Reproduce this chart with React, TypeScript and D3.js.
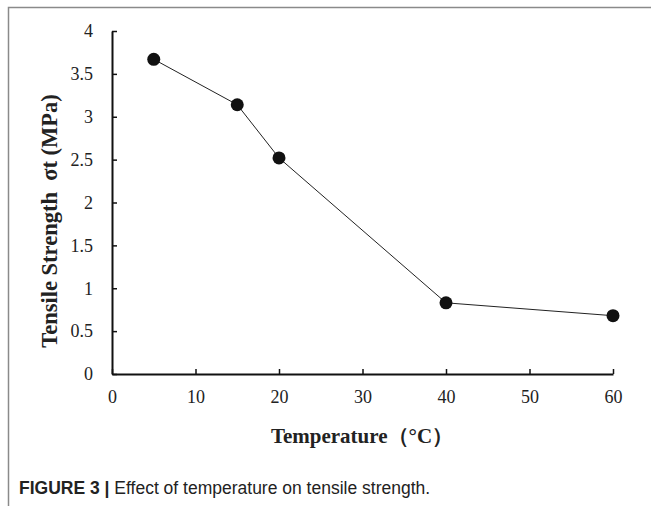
import React, { useEffect, useRef } from "react";
import * as d3 from "d3";

const temperatures: number[] = [5, 15, 20, 40, 60];
const strengths: number[] = [3.67, 3.14, 2.52, 0.83, 0.68];
const xTicks: number[] = [0, 10, 20, 30, 40, 50, 60];
const yTicks: number[] = [0, 0.5, 1, 1.5, 2, 2.5, 3, 3.5, 4];

const width = 651;
const height = 506;

const App = () => {
  const ref = useRef<any>(null);

  useEffect(() => {
    const svg = d3.select(ref.current);
    svg.selectAll("*").remove();

    const x = d3.scaleLinear().domain([0, 60]).range([112, 613]);
    const y = d3.scaleLinear().domain([0, 4]).range([374, 31]);

    // frame around the figure (top + left)
    svg
      .append("path")
      .attr("d", `M8.5,${height} L8.5,7.5 L${width},7.5`)
      .attr("fill", "none")
      .attr("stroke", "#8a8a8a")
      .attr("stroke-width", 1.5);

    const serif = "'Liberation Serif', 'Times New Roman', serif";

    // x axis
    const xAxis = svg
      .append("g")
      .attr("transform", `translate(0,${y(0)})`)
      .call(
        d3
          .axisBottom(x)
          .tickValues(xTicks)
          .tickSize(-5)
          .tickSizeOuter(0)
          .tickPadding(16)
          .tickFormat(d3.format("d"))
      );
    xAxis.select(".domain").attr("stroke", "#111").attr("stroke-width", 2);
    xAxis.selectAll(".tick line").attr("stroke", "#111").attr("stroke-width", 1.5);
    xAxis
      .selectAll(".tick text")
      .attr("fill", "#222")
      .attr("font-family", serif)
      .attr("font-size", 18);

    // y axis
    const yAxis = svg
      .append("g")
      .attr("transform", `translate(${x(0)},0)`)
      .call(
        d3
          .axisLeft(y)
          .tickValues(yTicks)
          .tickSize(-5)
          .tickSizeOuter(0)
          .tickPadding(19)
          .tickFormat((d: any) => String(d))
      );
    yAxis.select(".domain").attr("stroke", "#111").attr("stroke-width", 2);
    yAxis.selectAll(".tick line").attr("stroke", "#111").attr("stroke-width", 1.5);
    yAxis
      .selectAll(".tick text")
      .attr("fill", "#222")
      .attr("font-family", serif)
      .attr("font-size", 18);

    const pts: [number, number][] = temperatures.map((t, i) => [t, strengths[i]]);

    // the line
    const line = d3
      .line<[number, number]>()
      .x((d) => x(d[0]))
      .y((d) => y(d[1]));
    svg
      .append("path")
      .datum(pts)
      .attr("d", line)
      .attr("fill", "none")
      .attr("stroke", "#222")
      .attr("stroke-width", 1);

    // markers
    svg
      .selectAll(".dot")
      .data(pts)
      .enter()
      .append("circle")
      .attr("cx", (d) => x(d[0]))
      .attr("cy", (d) => y(d[1]))
      .attr("r", 6.5)
      .attr("fill", "#111");

    // axis titles
    svg
      .append("text")
      .attr("transform", "translate(57,221) rotate(-90)")
      .attr("text-anchor", "middle")
      .attr("xml:space", "preserve")
      .style("white-space", "pre")
      .attr("font-family", serif)
      .attr("font-weight", "bold")
      .attr("font-size", 22.5)
      .attr("fill", "#222")
      .text("Tensile Strength  σt (MPa)");

    svg
      .append("text")
      .attr("x", 362)
      .attr("y", 443)
      .attr("text-anchor", "middle")
      .attr("font-family", serif)
      .attr("font-weight", "bold")
      .attr("font-size", 21)
      .attr("fill", "#222")
      .text("Temperature（°C）");

    // caption
    const cap = svg
      .append("text")
      .attr("x", 19)
      .attr("y", 494)
      .attr("font-family", "'Liberation Sans', Arial, sans-serif")
      .attr("font-size", 17.5)
      .attr("fill", "#222");
    cap.append("tspan").attr("font-weight", "bold").text("FIGURE 3 | ");
    cap.append("tspan").text("Effect of temperature on tensile strength.");
  }, []);

  return (
    <svg
      ref={ref}
      width={width}
      height={height}
      style={{ position: "absolute", left: 0, top: 0, background: "#fff" }}
    ></svg>
  );
};

export default App;
